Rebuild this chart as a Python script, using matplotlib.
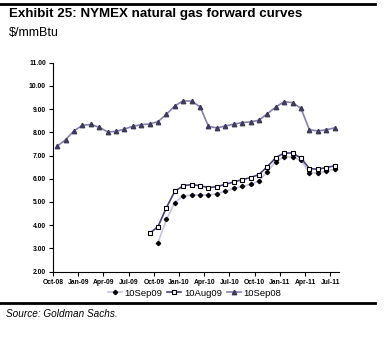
import matplotlib
matplotlib.use("Agg")
import matplotlib.pyplot as plt
import numpy as np

plt.rcParams['font.family'] = ['Liberation Sans', 'DejaVu Sans']

tick_labels = ["Oct-08", "Jan-09", "Apr-09", "Jul-09", "Oct-09", "Jan-10",
               "Apr-10", "Jul-10", "Oct-10", "Jan-11", "Apr-11", "Jul-11"]

# monthly contracts Oct-08 .. Jul-11 (34 months)
sep08 = [7.40, 7.68, 8.06, 8.30, 8.34, 8.22, 8.02, 8.04, 8.14, 8.26, 8.33, 8.36,
         8.46, 8.78, 9.14, 9.36, 9.34, 9.10, 8.26, 8.19, 8.27, 8.35, 8.42, 8.45,
         8.52, 8.80, 9.09, 9.32, 9.28, 9.03, 8.11, 8.06, 8.11, 8.19]
# Sep-09 .. Jul-11
aug09 = [3.65, 3.94, 4.76, 5.46, 5.70, 5.75, 5.70, 5.62, 5.66, 5.76, 5.86, 5.96,
         6.05, 6.18, 6.52, 6.91, 7.11, 7.11, 6.89, 6.44, 6.41, 6.48, 6.56]
# Oct-09 .. Jul-11
sep09 = [3.25, 4.25, 4.97, 5.26, 5.30, 5.30, 5.30, 5.36, 5.46, 5.59, 5.67, 5.76,
         5.90, 6.31, 6.74, 6.94, 6.94, 6.79, 6.26, 6.25, 6.32, 6.42]

n = len(sep08)
x08 = np.arange(n) + 0.5
xa09 = np.arange(n - len(aug09), n) + 0.5
xs09 = np.arange(n - len(sep09), n) + 0.5

fig = plt.figure(figsize=(3.89, 3.37), dpi=100)
ax = fig.add_axes([0.136, 0.194, 0.735, 0.62])

ax.plot(xs09, sep09, color="#c8c4e2", lw=1.2, marker="D", ms=2.2,
        mfc="black", mec="black", label="10Sep09", zorder=2)
ax.plot(xa09, aug09, color="#4a4078", lw=1.2, marker="s", ms=3.5,
        mfc="white", mec="black", mew=0.8, label="10Aug09", zorder=3)
ax.plot(x08, sep08, color="#8a80b0", lw=1.2, marker="^", ms=3.2,
        mfc="#3c3c5a", mec="#3c3c5a", label="10Sep08", zorder=2)

ax.set_xlim(0, n)
ax.set_ylim(2, 11)
ax.set_xticks(np.arange(0, n, 3))
ax.set_xticklabels(tick_labels)
ax.set_yticks(np.arange(2, 12, 1))
ax.set_yticklabels(["%.2f" % v for v in np.arange(2, 12, 1)])
ax.tick_params(axis="both", labelsize=4.9, length=3, width=0.8, pad=2,
               colors="black")
for lab in ax.get_xticklabels() + ax.get_yticklabels():
    lab.set_fontweight("bold")
for s in ["top", "right"]:
    ax.spines[s].set_visible(False)
for s in ["left", "bottom"]:
    ax.spines[s].set_linewidth(0.8)

fig.legend(loc="center", bbox_to_anchor=(0.5, 0.13), ncol=3, frameon=False,
           fontsize=6.8, handlelength=1.5, handletextpad=0.25,
           columnspacing=0.5)

fig.text(0.023, 0.958, "Exhibit 25: NYMEX natural gas forward curves",
         fontsize=9.6, fontweight="bold", va="center")
fig.text(0.023, 0.902, "$/mmBtu", fontsize=9, va="center")
fig.text(0.015, 0.068, "Source: Goldman Sachs.", fontsize=7.2,
         style="italic", va="center")

fig.add_artist(plt.Line2D([0, 0.965], [0.988, 0.988], color="black", lw=2))
fig.add_artist(plt.Line2D([0, 0.965], [0.102, 0.102], color="black", lw=2))

fig.savefig("out.png", dpi=100)
